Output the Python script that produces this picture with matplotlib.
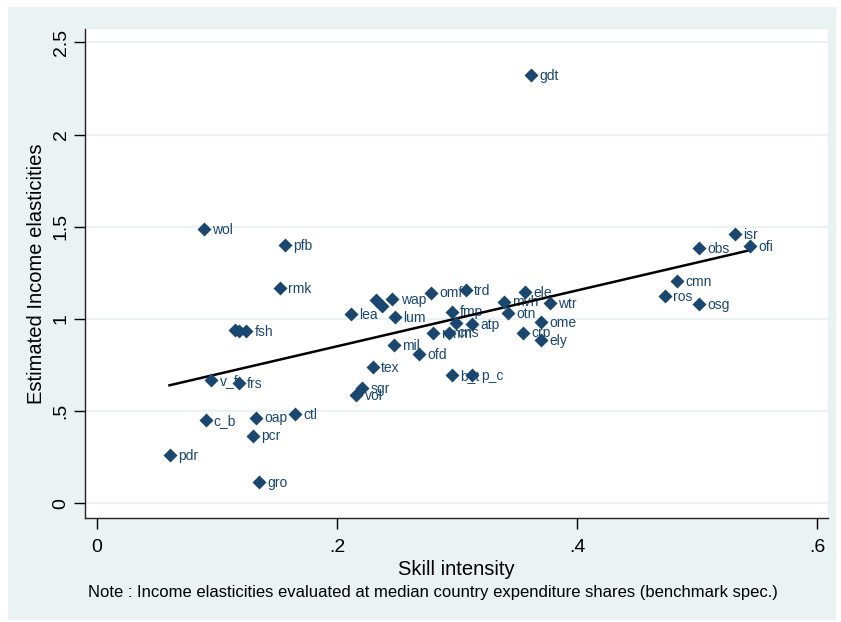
#!/usr/bin/env python3

import numpy as np
import matplotlib
matplotlib.use('Agg')
import matplotlib.pyplot as plt
from matplotlib.patches import Rectangle

# sector codes, skill intensity and estimated income elasticity
sectors = ['gdt', 'wol', 'pfb', 'rmk', 'isr', 'obs', 'ofi', 'cmn', 'ros', 'osg',
           'lea', '', '', 'fsh', 'v_f', 'frs', 'c_b', 'oap', 'pcr', 'pdr',
           'gro', 'ctl', 'tex', 'sgr', 'vol', '', '', 'wap', 'lum', 'mil',
           'ofd', 'omf', 'trd', 'fmp', '', 'atp', 'nmm', 'cns', 'mvh', 'otn',
           'ele', 'wtr', 'ome', 'crp', 'ely', 'b_t', 'p_c']
skill = [0.3613, 0.0888, 0.1563, 0.1521, 0.5313, 0.5016, 0.5438, 0.4831, 0.4729, 0.5013,
         0.2113, 0.1146, 0.1181, 0.1243, 0.0951, 0.1182, 0.0904, 0.1321, 0.1298, 0.0604,
         0.1349, 0.1646, 0.2299, 0.2210, 0.2160, 0.2321, 0.2377, 0.2460, 0.2479, 0.2471,
         0.2679, 0.2779, 0.3071, 0.2957, 0.2988, 0.3123, 0.2798, 0.2932, 0.3388, 0.3423,
         0.3563, 0.3771, 0.3702, 0.3548, 0.3702, 0.2960, 0.3127]
elast = [2.324, 1.488, 1.401, 1.168, 1.459, 1.383, 1.396, 1.206, 1.125, 1.080,
         1.027, 0.941, 0.935, 0.935, 0.669, 0.651, 0.452, 0.465, 0.367, 0.262,
         0.114, 0.483, 0.738, 0.624, 0.588, 1.103, 1.072, 1.108, 1.012, 0.859,
         0.809, 1.143, 1.157, 1.040, 0.977, 0.973, 0.922, 0.926, 1.094, 1.031,
         1.145, 1.085, 0.985, 0.926, 0.886, 0.696, 0.696]

xticks = [0, 0.2, 0.4, 0.6]
xticklabels = ['0', '.2', '.4', '.6']
yticks = [0, 0.5, 1, 1.5, 2, 2.5]
yticklabels = ['0', '.5', '1', '1.5', '2', '2.5']

navy = '#1A476F'
bg = '#EAF2F3'

plt.rcParams['font.family'] = ['Liberation Sans', 'DejaVu Sans']

W, H = 841, 622
fig = plt.figure(figsize=(W / 100, H / 100), dpi=100)
fig.patch.set_facecolor('white')
fig.patches.append(Rectangle((8 / W, 2 / H), 828 / W, 613 / H, transform=fig.transFigure,
                             facecolor=bg, edgecolor='none', zorder=-5))

ax = fig.add_axes([85 / W, 1 - 518 / H, 743 / W, 489 / H])
ax.set_facecolor('white')

x = np.array(skill)
y = np.array(elast)

# linear fit over the observed range
b, a = np.polyfit(x, y, 1)
xf = np.array([x.min(), x.max()])
ax.plot(xf, a + b * xf, color='black', lw=1.8, zorder=3)

ax.plot(x, y, 'D', color=navy, ms=7, mec='none', zorder=4)
for s, xi, yi in zip(sectors, x, y):
    if s:
        ax.annotate(s, (xi, yi), xytext=(6, -0.5), textcoords='offset points',
                    va='center', ha='left', fontsize=10, color=navy, zorder=2)

ax.set_xlim(-0.01, 0.609)
ax.set_ylim(-0.079, 2.573)
ax.set_xticks(xticks)
ax.set_xticklabels(xticklabels)
ax.set_yticks(yticks)
ax.set_yticklabels(yticklabels, rotation=90, va='center')
ax.tick_params(axis='both', direction='out', length=8, width=1, labelsize=14)
ax.tick_params(axis='x', pad=7)
ax.tick_params(axis='y', pad=3)

for yt in yticks:
    ax.axhline(yt, color=bg, lw=1.5, zorder=1)

for side in ['top', 'right']:
    ax.spines[side].set_visible(False)
for side in ['left', 'bottom']:
    ax.spines[side].set_color('#222222')
    ax.spines[side].set_linewidth(1)

ax.set_xlabel('Skill intensity', fontsize=14.5, labelpad=3)
ax.set_ylabel('Estimated Income elasticities', fontsize=14.5, labelpad=5)

fig.text(88 / W, 1 - 592 / H,
         'Note : Income elasticities evaluated at median country expenditure shares (benchmark spec.)',
         fontsize=12, va='center', ha='left')

fig.savefig('out.png', dpi=100, facecolor=fig.get_facecolor())
